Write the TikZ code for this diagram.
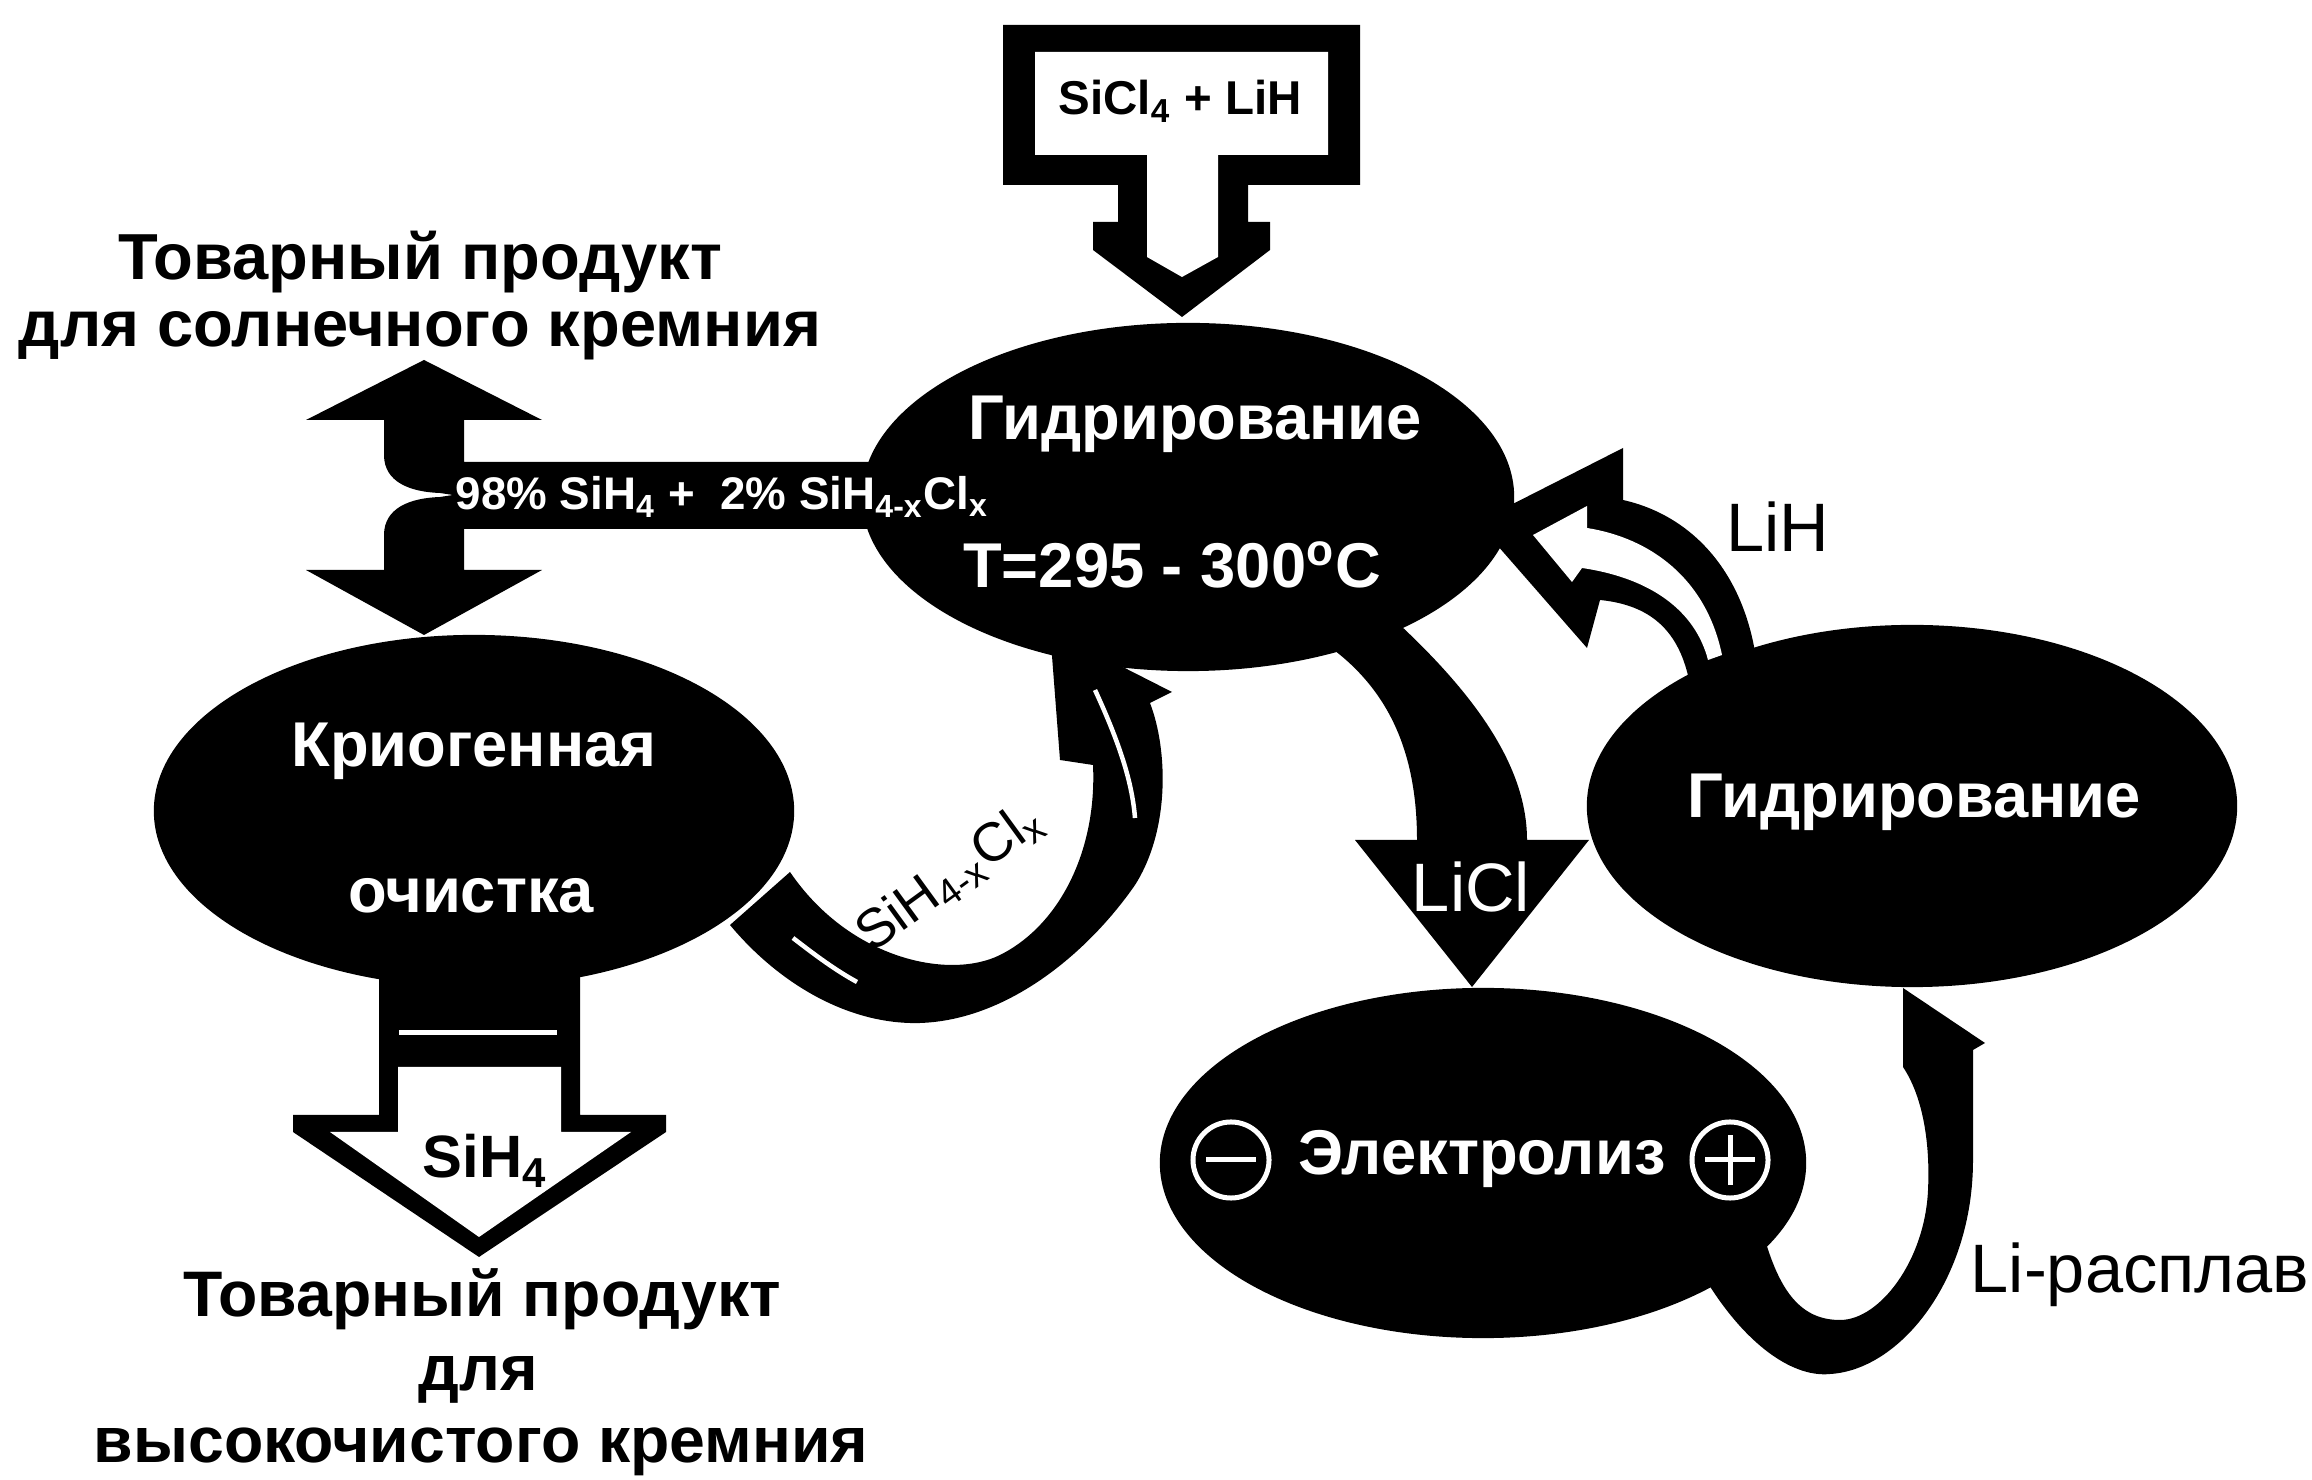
\documentclass[tikz,border=0pt]{standalone}
\usepackage{fontspec}
\setmainfont{Liberation Sans}
\usetikzlibrary{shapes.geometric}

\begin{document}
\begin{tikzpicture}[
    x=0.01cm, y=-0.01cm,
    blob/.style={ellipse, fill=black, inner sep=0pt},
    wlbl/.style={text=white, inner sep=0pt, anchor=base,
        font=\bfseries\fontsize{18}{20}\selectfont},
    blbl/.style={text=black, inner sep=0pt, anchor=base,
        font=\bfseries\fontsize{18.3}{20}\selectfont},
    tlbl/.style={text=black, inner sep=0pt, anchor=base,
        font=\fontsize{19.5}{22}\selectfont},
    pole/.style={circle, draw=white, line width=0.05cm, minimum size=0.76cm, inner sep=0pt}
]
\useasboundingbox (0,0) rectangle (2312,1480);
\fill[white] (0,0) rectangle (2312,1480);

% Process stages
\node[blob, minimum width=6.52cm, minimum height=3.48cm] (hydro)   at (1188,497)  {};
\node[blob, minimum width=6.40cm, minimum height=3.52cm] (cryo)    at (474,811)   {};
\node[blob, minimum width=6.50cm, minimum height=3.62cm] (hydro2)  at (1912,806)  {};
\node[blob, minimum width=6.46cm, minimum height=3.50cm] (electro) at (1483,1163) {};

% Feed box with hollow arrow into hydro
\fill (1003,25) -- (1360,25) -- (1360,185) -- (1248,185) -- (1248,222) -- (1270,222)
  -- (1270,250) -- (1182,317) -- (1093,250) -- (1093,222) -- (1118,222) -- (1118,185)
  -- (1003,185) -- cycle;
\fill[white] (1035,52) -- (1328,52) -- (1328,155) -- (1218,155) -- (1218,257)
  -- (1182,277) -- (1147,257) -- (1147,155) -- (1035,155) -- cycle;

% Gas mixture bar, split up and down
\fill (880,462) -- (464,462) -- (464,420) -- (542,420) -- (424,360) -- (306,420) -- (384,420)
  -- (384,455) .. controls (384,482) and (410,492) .. (440,493) -- (453,495) -- (440,497)
  .. controls (410,498) and (384,508) .. (384,535) -- (384,570) -- (306,570) -- (424,635)
  -- (542,570) -- (464,570) -- (464,529) -- (880,529) -- cycle;

% SiH4 product arrow below cryo
\fill (379,960) -- (379,1115) -- (293,1115) -- (293,1132) -- (479,1257) -- (666,1132)
  -- (666,1115) -- (580,1115) -- (580,960) -- cycle;
\fill[white] (398,1067) -- (398,1132) -- (330,1132) -- (479,1237) -- (631,1132)
  -- (561,1132) -- (561,1067) -- cycle;
\draw[white, line width=0.05cm] (399,1033) -- (557,1033);

% Recycle loop cryo -> hydro
\fill (730,925) .. controls (780,985) and (850,1025) .. (920,1023)
  .. controls (1010,1020) and (1090,950) .. (1135,885)
  .. controls (1170,830) and (1168,750) .. (1150,703) -- (1172,692) -- (1050,630)
  -- (1060,760) -- (1093,765) .. controls (1097,850) and (1060,925) .. (1000,955)
  .. controls (950,980) and (850,960) .. (790,872) -- cycle;
\draw[white, line width=0.045cm] (793,938) .. controls (815,955) and (835,970) .. (857,982);
\draw[white, line width=0.045cm] (1095,690) .. controls (1118,740) and (1132,780) .. (1135,818);

% LiCl to electrolysis
\fill (1320,640) .. controls (1380,680) and (1417,740) .. (1417,840) -- (1355,840)
  -- (1472,987) -- (1589,840) -- (1527,840) .. controls (1527,770) and (1480,700) .. (1400,625)
  -- cycle;

% LiH back to hydro (hollow)
\fill (1497,512) -- (1623,448) -- (1623,500) .. controls (1690,515) and (1745,570) .. (1757,665)
  -- (1690,685) .. controls (1680,630) and (1650,605) .. (1600,600) -- (1587,648)
  -- (1497,545) -- cycle;
\fill[white] (1533,535) -- (1587,506) -- (1587,528) .. controls (1650,538) and (1706,578) .. (1722,655)
  -- (1708,660) .. controls (1695,610) and (1650,578) .. (1582,568) -- (1572,582) -- cycle;

% Li melt electro -> hydro2
\fill (1700,1270) .. controls (1740,1340) and (1790,1378) .. (1830,1374)
  .. controls (1900,1370) and (1973,1280) .. (1973,1160) -- (1973,1050) -- (1985,1043)
  -- (1903,988) -- (1903,1067) .. controls (1925,1100) and (1930,1150) .. (1928,1190)
  .. controls (1925,1260) and (1880,1320) .. (1840,1320)
  .. controls (1800,1320) and (1780,1290) .. (1765,1240) -- cycle;

% Electrodes
\node[pole] (minus) at (1231,1160) {};
\node[pole] (plus)  at (1730,1160) {};
\draw[white, line width=0.05cm] ([xshift=-0.25cm]minus.center) -- ([xshift=0.25cm]minus.center);
\draw[white, line width=0.05cm] ([xshift=-0.25cm]plus.center) -- ([xshift=0.25cm]plus.center);
\draw[white, line width=0.05cm] ([yshift=-0.25cm]plus.center) -- ([yshift=0.25cm]plus.center);

% Labels
\node[blbl, font=\bfseries\fontsize{13.5}{15}\selectfont] (feed) at (1180,115) {SiCl\textsubscript{4} + LiH};
\node[blbl, font=\bfseries\fontsize{18.5}{20}\selectfont] (topA) at (420,280) {Товарный продукт};
\node[blbl, font=\bfseries\fontsize{18.5}{20}\selectfont] (topB) at (420,347) {для солнечного кремния};
\node[wlbl] (hydroA) at (1195,440) {Гидрирование};
\node[wlbl] (hydroB) at (1172,588) {T=295 - 300\textsuperscript{o}C};
\node[wlbl, anchor=base west, font=\bfseries\fontsize{13}{15}\selectfont] (mix) at (455,510)
  {98\% SiH\textsubscript{4} +\ \ 2\% SiH\textsubscript{4-x}Cl\textsubscript{x}};
\node[wlbl] (cryoA) at (474,767) {Криогенная};
\node[wlbl] (cryoB) at (471,913) {очистка};
\node[blbl, font=\bfseries\fontsize{17}{19}\selectfont] (prod) at (485,1178) {SiH\textsubscript{4}};
\node[blbl] (botA) at (482,1317) {Товарный продукт};
\node[blbl] (botB) at (478,1390) {для};
\node[blbl] (botC) at (481,1462) {высокочистого кремния};
\node[tlbl, anchor=center, rotate=36, font=\fontsize{15.5}{18}\selectfont] (recyc) at (950,878)
  {SiH\textsubscript{4-x}Cl\textsubscript{x}};
\node[wlbl] (hydro2A) at (1914,818) {Гидрирование};
\node[wlbl] (electroA) at (1482,1175) {Электролиз};
\node[tlbl] (lih) at (1778,552) {LiH};
\node[tlbl, text=white] (licl) at (1471,912) {LiCl};
\node[tlbl, anchor=base west] (melt) at (1970,1292) {Li-расплав};

\end{tikzpicture}
\end{document}
